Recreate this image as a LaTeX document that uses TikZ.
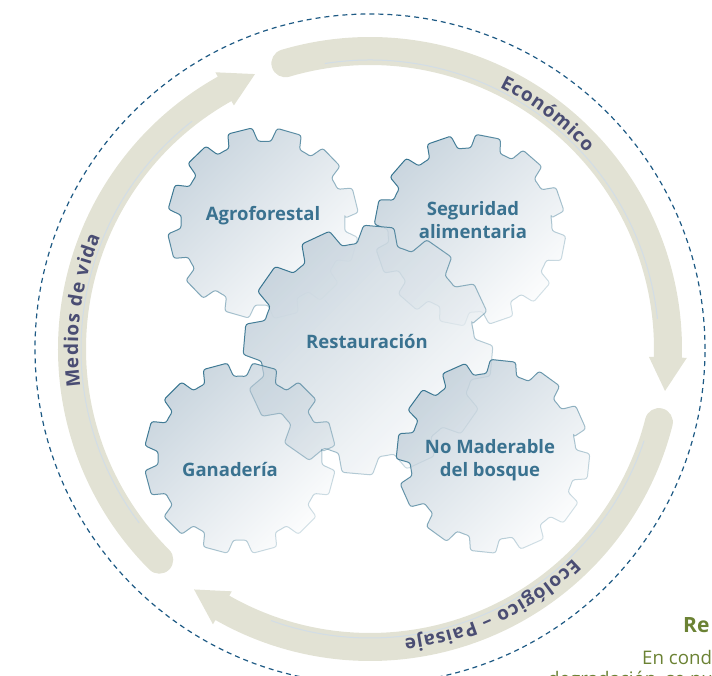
\documentclass[tikz,border=0pt]{standalone}
\usepackage{fontspec}
\setmainfont{Open Sans}
\usetikzlibrary{decorations.text, fadings}

\definecolor{bandgrey}{HTML}{E2E2D4}
\definecolor{bandthin}{HTML}{D2DDE6}
\definecolor{bandtext}{HTML}{4A4D73}
\definecolor{ringblue}{HTML}{1E5A84}
\definecolor{gearblue}{HTML}{C4D1DB}
\definecolor{gearedge}{HTML}{35738F}
\definecolor{labelblue}{HTML}{3A7290}
\definecolor{olivetext}{HTML}{6B8234}

\tikzfading[name=gearfillfade, top color=transparent!10, bottom color=transparent!95]
\tikzfading[name=gearlinefade, top color=transparent!0, bottom color=transparent!80]

\newcommand{\bandfont}{\fontsize{19}{19}\selectfont\bfseries\kern0.9pt}

% tip radius, root radius, offset, tip half angle, base half angle
\newcommand{\gearpath}[5]{({#3-#5}:#2)
  \foreach \k in {0,...,11} {
    -- ({#3+30*\k-#4}:#1) -- ({#3+30*\k+#4}:#1) -- ({#3+30*\k+#5}:#2)
    arc[start angle={#3+30*\k+#5}, end angle={#3+30*\k+30-#5}, radius=#2]
  } -- cycle}

\begin{document}
\begin{tikzpicture}[x=1pt, y=1pt,
    band/.style={fill=bandgrey},
    bandline/.style={draw=bandthin, line width=1pt},
    ringdash/.style={draw=ringblue, line width=1.2pt, dash pattern=on 5pt off 4pt},
    gearback/.style={fill=white, fill opacity=0.7, rounded corners=2.5pt},
    gearfill/.style={fill=gearblue, path fading=gearfillfade, fading angle=45, rounded corners=2.5pt},
    gearline/.style={draw=gearedge, line width=1pt, line join=round, path fading=gearlinefade, fading angle=45, rounded corners=2.5pt},
    gearlabel/.style={font=\fontsize{18.5}{23}\selectfont\bfseries, text=labelblue, align=center, inner sep=0pt},
    bandlabel/.style={decorate, decoration={text along path, text align=center, text color=bandtext}}]
    \useasboundingbox (0, 0) rectangle (712, 676);
    \clip (0, 0) rectangle (712, 676);

    \coordinate (O) at (370, 327);
    \coordinate (G1) at (368, 326); % Restauracion
    \coordinate (G2) at (263, 453); % Agroforestal
    \coordinate (G3) at (470, 446); % Seguridad
    \coordinate (G4) at (240, 218); % Ganaderia
    \coordinate (G5) at (493, 220); % No Maderable

    \draw[ringdash] (O) circle[radius=335];

    \begin{scope}[shift={(O)}]
        % 1 left, 2 top right, 3 bottom
        \fill[band] (225:312) arc[start angle=225, end angle=119.2, radius=312] -- (119.2:317) -- (112.7:298) -- (119.2:279) -- (119.2:284) arc[start angle=119.2, end angle=225, radius=284] arc[start angle=405, end angle=225, radius=14] -- cycle; % 1
        \fill[band] (106.5:312) arc[start angle=106.5, end angle=-1.6, radius=312] -- (-1.6:317) -- (-8.1:298) -- (-1.6:279) -- (-1.6:284) arc[start angle=-1.6, end angle=106.5, radius=284] arc[start angle=286.5, end angle=106.5, radius=14] -- cycle; % 2
        \fill[band] (-14.2:312) arc[start angle=-14.2, end angle=-119.7, radius=312] -- (-119.7:317) -- (-126.2:298) -- (-119.7:279) -- (-119.7:284) arc[start angle=-119.7, end angle=-14.2, radius=284] arc[start angle=165.8, end angle=-14.2, radius=14] -- cycle; % 3

        \draw[bandline] (217:289) arc[start angle=217, end angle=128, radius=289];
        \draw[bandline] (99:289) arc[start angle=99, end angle=6, radius=289];
        \draw[bandline] (-18.5:289) arc[start angle=-18.5, end angle=-110, radius=289];

        \path[bandlabel, decoration={text={|\bandfont|Medios de vida}}] (205:292) arc[start angle=205, end angle=140, radius=292];
        \path[bandlabel, decoration={text={|\bandfont|Económico}}] (85:292) arc[start angle=85, end angle=21, radius=292];
        \path[bandlabel, decoration={text={|\bandfont|Ecológico – Paisaje}}] (-15:292) arc[start angle=-15, end angle=-114, radius=292];
    \end{scope}

    \begin{scope}[shift={(G2)}]
        \fill[gearfill] \gearpath{96}{82}{14}{7.5}{10.5};
        \draw[gearline] \gearpath{96}{82}{14}{7.5}{10.5};
    \end{scope}
    \begin{scope}[shift={(G3)}]
        \fill[gearfill] \gearpath{96}{82}{19}{7.5}{10.5};
        \draw[gearline] \gearpath{96}{82}{19}{7.5}{10.5};
    \end{scope}
    \begin{scope}[shift={(G1)}]
        \fill[gearback] \gearpath{125}{107}{25}{7}{11};
        \fill[gearfill] \gearpath{125}{107}{25}{7}{11};
        \draw[gearline] \gearpath{125}{107}{25}{7}{11};
    \end{scope}
    \begin{scope}[shift={(G4)}]
        \fill[gearfill] \gearpath{96}{82}{15}{7.5}{10.5};
        \draw[gearline] \gearpath{96}{82}{15}{7.5}{10.5};
    \end{scope}
    \begin{scope}[shift={(G5)}]
        \fill[gearfill] \gearpath{97}{83}{24}{7.5}{10.5};
        \draw[gearline] \gearpath{97}{83}{24}{7.5}{10.5};
    \end{scope}

    \node[gearlabel] (L1) at (367, 334) {Restauración};
    \node[gearlabel] (L2) at (263, 460) {Agroforestal};
    \node[gearlabel] (L3) at (473, 456) {Seguridad\\alimentaria};
    \node[gearlabel] (L4) at (230, 206) {Ganadería};
    \node[gearlabel] (L5) at (490, 216) {No Maderable\\del bosque};

    \node[anchor=base west, inner sep=0pt, text=olivetext, font=\fontsize{21}{21}\selectfont\bfseries] (T1) at (683, 43) {Re};
    \node[anchor=base west, inner sep=0pt, text=olivetext, font=\fontsize{18.7}{18.7}\selectfont] (T2) at (642, 11) {En cond};
    \node[anchor=base west, inner sep=0pt, text=olivetext, font=\fontsize{18.7}{18.7}\selectfont] (T3) at (548, -10) {degradación, se puede};
\end{tikzpicture}
\end{document}
